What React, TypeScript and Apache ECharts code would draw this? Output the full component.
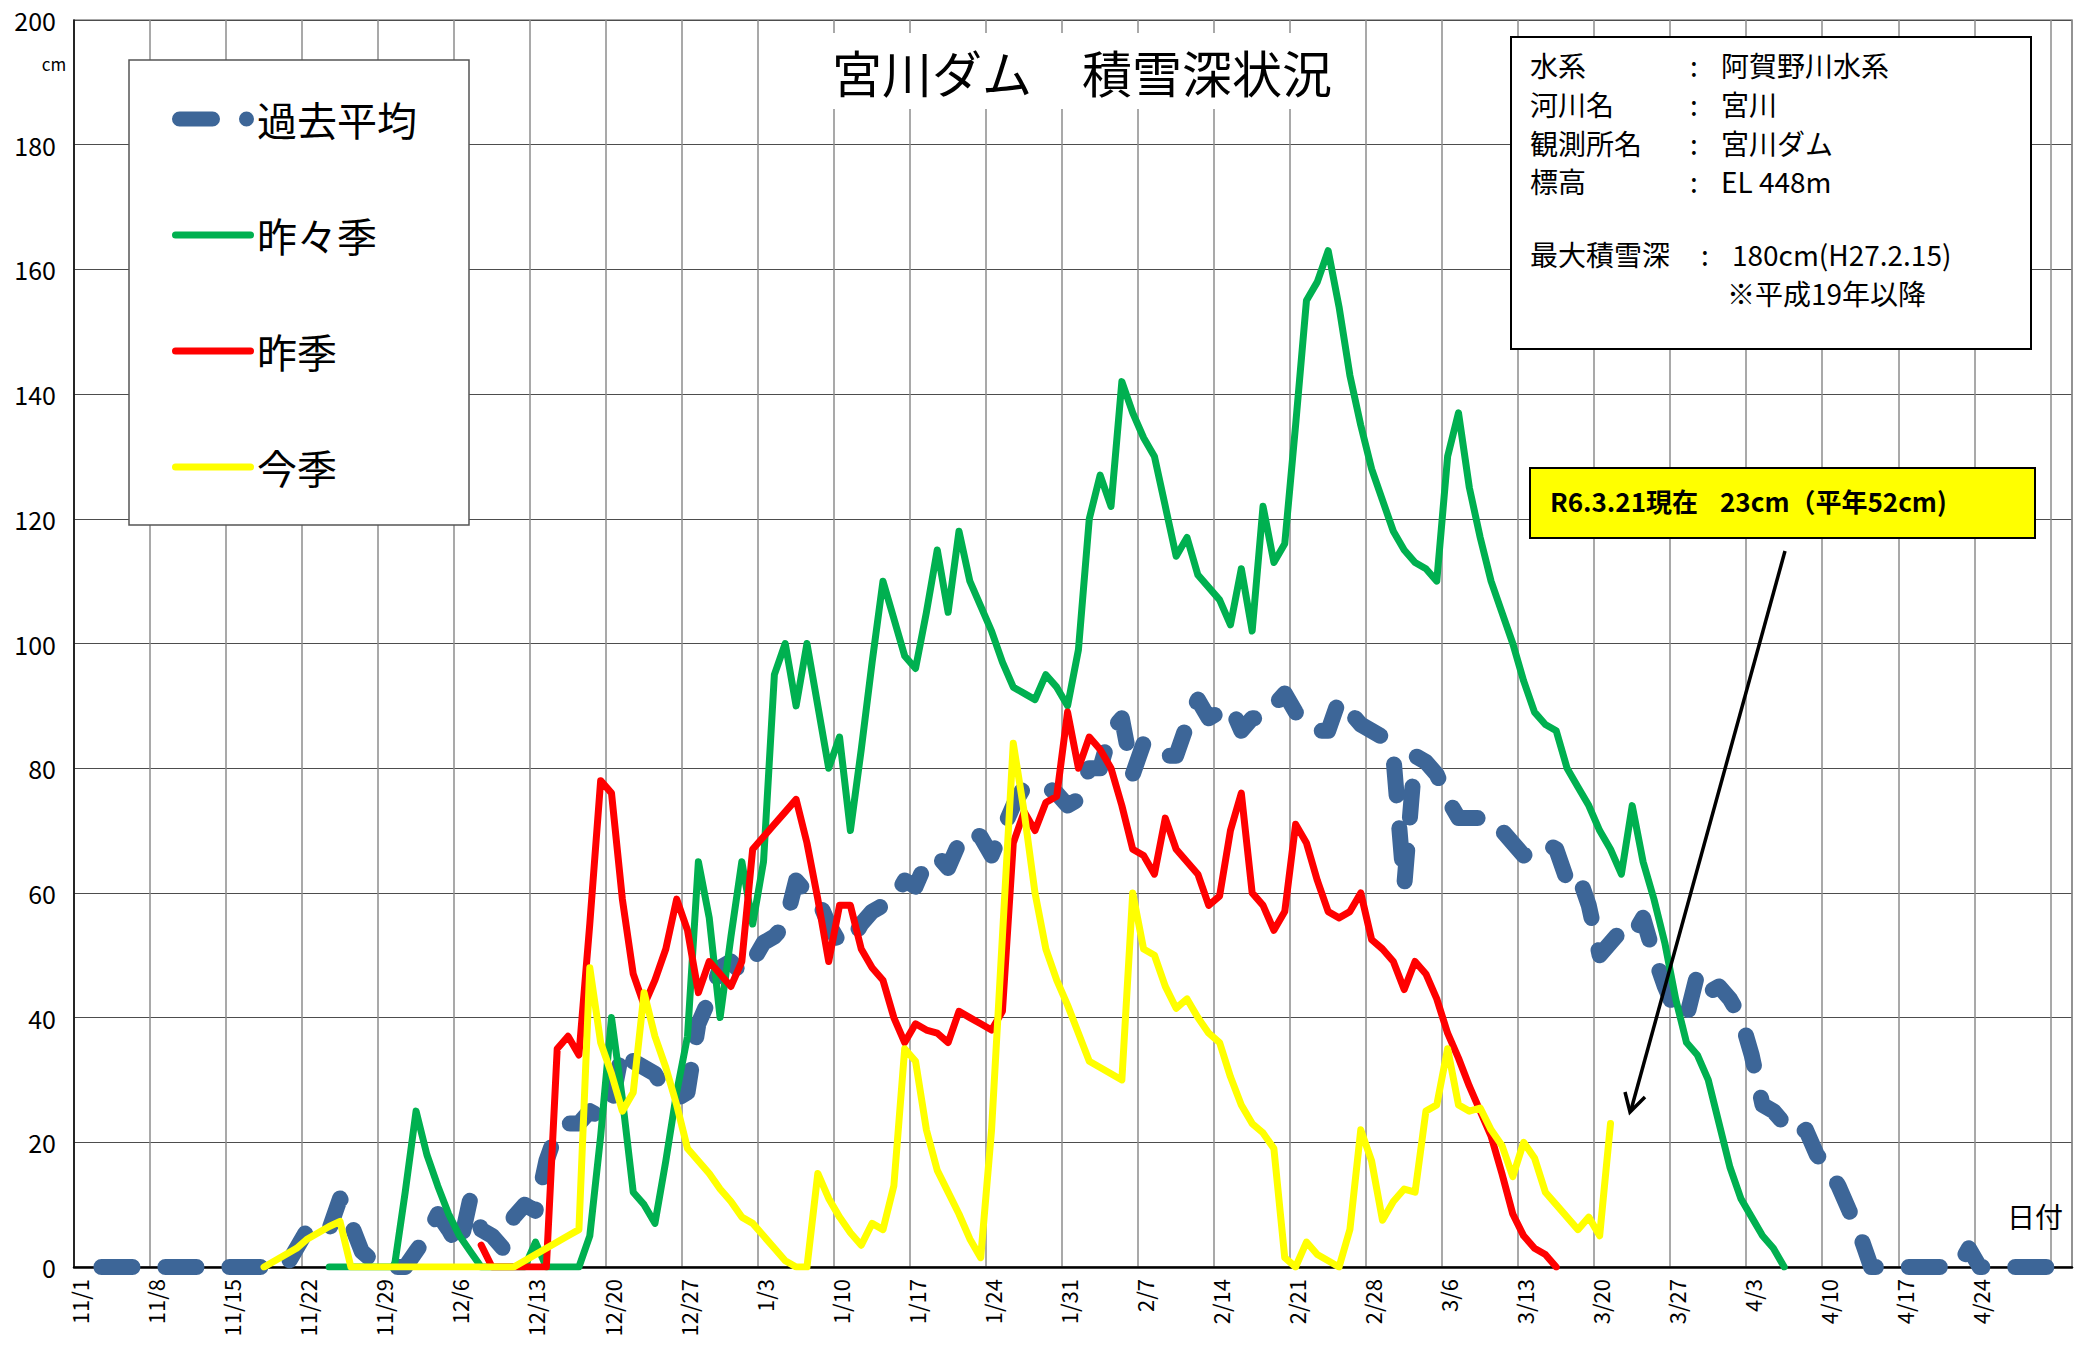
import React, { useEffect, useRef } from "react";
import * as echarts from "echarts";

const FONT = '"Noto Sans CJK JP", "Noto Sans", sans-serif';

// Daily categories 11/1 .. 5/2 (2023-11-01 start, leap-year February)
const START_DATE = Date.UTC(2023, 10, 1);
const DAY_COUNT = 184;
const categories: string[] = [];
for (let i = 0; i < DAY_COUNT; i++) {
  const d = new Date(START_DATE + i * 86400000);
  categories.push(`${d.getUTCMonth() + 1}/${d.getUTCDate()}`);
}

const seriesNames = ["過去平均", "昨々季", "昨季", "今季"];
const seriesColors = ["#3D6698", "#00B050", "#FF0000", "#FFFF00"];

const N = null;

// 過去平均 (cm)
const avgDepth: (number | null)[] = [
  // Nov
  0, 0, 0, 0, 0, 0, 0, 0, 0, 0, 0, 0, 0, 0, 0, 0, 0, 0, 0, 0, 3, 6, 5, 6, 11, 7, 2.5, 1, 0, 0,
  // Dec
  0, 2.5, 5, 8.5, 6, 3, 11, 6, 5, 3, 8, 10, 9, 17, 22, 23, 23, 25, 24, 26, 35, 33, 32, 31, 28, 27, 28, 39, 43, 48, 49,
  // Jan
  47, 49, 52, 53, 55, 62, 60, 59, 55, 52, 52, 55, 57, 58, 59, 62, 61, 65, 66, 64, 68, 70, 69, 66, 70, 74, 77, 77, 77, 76, 74,
  // Feb
  75, 80, 80, 86, 88, 79, 84, 84, 82, 82, 87, 91, 88, 89, 90, 86, 88, 88, 90, 92, 89, 87, 86, 86, 91, 89, 87, 86, 85,
  // Mar
  82, 61, 82, 81, 79, 75, 72, 72, 72, 72, 70, 68, 66, 67, 68, 67, 62, 63, 58, 50, 52, 54, 53, 56, 50, 45, 41, 40, 47, 44, 45,
  // Apr
  43, 40, 34, 26, 25, 23, 21, 22, 18, 16, 13, 9, 5, 0, 0, 0, 0, 0, 0, 0, 0, 0, 3, 0, 0, 0, 0, 0, 0, 0,
  // May
  0, 0,
];

// 昨々季 (cm)
const twoSeasonsAgo: (number | null)[] = [
  // Nov
  N, N, N, N, N, N, N, N, N, N, N, N, N, N, N, N, N, N, N, N, N, N, N, 0, 0, 0, 0, 0, 0, 0,
  // Dec
  12, 25, 18, 13, 8.5, 5, 2.5, 0, 0, 0, 0, 0, 4, 0, 0, 0, 0, 5, 21, 40, 27, 12, 10, 7, 17, 28, 37, 65, 56, 40, 53,
  // Jan
  65, 55, 65, 95, 100, 90, 100, 90, 80, 85, 70, 83, 97, 110, 104, 98, 96, 105, 115, 105, 118, 110, 106, 102, 97, 93, 92, 91, 95, 93, 90,
  // Feb
  99, 120, 127, 122, 142, 137, 133, 130, 122, 114, 117, 111, 109, 107, 103, 112, 102, 122, 113, 116, 135, 155, 158, 163, 154, 143, 135, 128, 123,
  // Mar
  118, 115, 113, 112, 110, 130, 137, 125, 117, 110, 105, 100, 94, 89, 87, 86, 80, 77, 74, 70, 67, 63, 74, 65, 59, 52, 43, 36, 34, 30, 23,
  // Apr
  16, 11, 8, 5, 3, 0, N, N, N, N, N, N, N, N, N, N, N, N, N, N, N, N, N, N, N, N, N, N, N, N,
  // May
  N, N,
];

// 昨季 (cm)
const lastSeason: (number | null)[] = [
  // Nov
  N, N, N, N, N, N, N, N, N, N, N, N, N, N, N, N, N, N, N, N, N, N, N, N, N, N, N, N, N, N,
  // Dec
  N, N, N, N, N, N, N, 3.5, 0, 0, 0, 0, 0, 0, 35, 37, 34, 55, 78, 76, 59, 47, 42, 46, 51, 59, 54, 44, 49, 47, 45,
  // Jan
  49, 67, 69, 71, 73, 75, 68, 59, 49, 58, 58, 51, 48, 46, 40, 36, 39, 38, 37.5, 36, 41, 40, 39, 38, 41, 68, 73, 70, 74.5, 75.5, 89,
  // Feb
  80, 85, 83, 80, 74, 67, 66, 63, 72, 67, 65, 63, 58, 59.5, 70, 76, 60, 58, 54, 57, 71, 68, 62, 57, 56, 57, 60, 52.5, 51,
  // Mar
  49, 44.5, 49, 47, 43, 37.5, 33.5, 29, 25, 21, 15, 8.5, 5, 3, 2, 0, N, N, N, N, N, N, N, N, N, N, N, N, N, N, N,
  // Apr
  N, N, N, N, N, N, N, N, N, N, N, N, N, N, N, N, N, N, N, N, N, N, N, N, N, N, N, N, N, N,
  // May
  N, N,
];

// 今季 (cm)
const thisSeason: (number | null)[] = [
  // Nov
  N, N, N, N, N, N, N, N, N, N, N, N, N, N, N, N, N, 0, 1, 2, 3, 4.5, 5.5, 6.5, 7.3, 0, 0, 0, 0, 0,
  // Dec
  0, 0, 0, 0, 0, 0, 0, 0, 0, 0, 0, 1, 2, 3, 4, 5, 6, 48, 36, 31, 25, 28, 44, 37, 32, 26, 19, 17, 15, 12.5, 10.5,
  // Jan
  8, 7, 5, 3, 1, 0, 0, 15, 11, 8, 5.5, 3.5, 7, 6, 13, 35, 33, 22, 15.5, 12, 8.5, 4.5, 1.5, 22, 53, 84, 73, 60, 51, 46, 42,
  // Feb
  37.5, 33, 32, 31, 30, 60, 51, 50, 45, 41.5, 43, 40, 37.5, 36, 30.5, 26, 23, 21.5, 19, 1.5, 0, 4, 2, 1, 0, 6, 22, 17, 7.5,
  // Mar
  10.5, 12.5, 12, 25, 26, 35, 26, 25, 25.5, 22, 19.5, 14.5, 20, 17.5, 12, 10, 8, 6, 8, 5, 23, N, N, N, N, N, N, N, N, N, N,
  // Apr
  N, N, N, N, N, N, N, N, N, N, N, N, N, N, N, N, N, N, N, N, N, N, N, N, N, N, N, N, N, N,
  // May
  N, N,
];

const yTicks = { min: 0, max: 200, interval: 20 };

const infoRows = [
  { label: "水系", value: "阿賀野川水系" },
  { label: "河川名", value: "宮川" },
  { label: "観測所名", value: "宮川ダム" },
  { label: "標高", value: "EL 448m" },
];
const maxRecord = { label: "最大積雪深", value: "180cm(H27.2.15)", note: "※平成19年以降" };
const currentNoteA = "R6.3.21現在";
const currentNoteB = "23cm（平年52cm)";

const avgIcon =
  "path://M7.5,0H40.5A7.5,7.5,0,0,1,40.5,15H7.5A7.5,7.5,0,0,1,7.5,0ZM74.5,0A7.5,7.5,0,1,1,74.5,15A7.5,7.5,0,1,1,74.5,0Z";
const solidIcon = "path://M3.5,0H78.5A3.5,3.5,0,0,1,78.5,7H3.5A3.5,3.5,0,0,1,3.5,0Z";

function txt(text: string, x: number, y: number, size: number, extra: any = {}) {
  return {
    type: "text",
    z: 100,
    style: {
      text,
      x,
      y,
      fill: "#000",
      fontSize: size,
      fontFamily: FONT,
      align: "left",
      verticalAlign: "middle",
      ...extra,
    },
  };
}

function buildOption() {
  const dataSets = [avgDepth, twoSeasonsAgo, lastSeason, thisSeason];
  const series = dataSets.map((data, i) => {
    const isAvg = i === 0;
    return {
      name: seriesNames[i],
      type: "line",
      data,
      color: seriesColors[i],
      showSymbol: false,
      symbol: "none",
      silent: true,
      connectNulls: false,
      z: 2 + i,
      lineStyle: isAvg
        ? { color: seriesColors[i], width: 16, type: [31, 33], dashOffset: 42, cap: "round", join: "round" }
        : { color: seriesColors[i], width: 7, cap: "round", join: "round" },
    };
  });

  const infoGraphics: any[] = [
    {
      type: "rect",
      z: 99,
      shape: { x: 1511, y: 37, width: 520, height: 312 },
      style: { fill: "#fff", stroke: "#000", lineWidth: 2 },
    },
  ];
  const rowY = [65, 104, 143, 181];
  infoRows.forEach((r, i) => {
    infoGraphics.push(txt(r.label, 1530, rowY[i], 28));
    infoGraphics.push(txt(":", 1690, rowY[i], 28));
    infoGraphics.push(txt(r.value, 1721, rowY[i], 28));
  });
  infoGraphics.push(txt(maxRecord.label, 1530, 254, 28));
  infoGraphics.push(txt(":", 1701, 254, 28));
  infoGraphics.push(txt(maxRecord.value, 1732, 254, 28));
  infoGraphics.push(txt(maxRecord.note, 1727, 293, 28));

  const annotation: any[] = [
    {
      type: "rect",
      z: 99,
      shape: { x: 1530, y: 468, width: 505, height: 70 },
      style: { fill: "#FFFF00", stroke: "#000", lineWidth: 2 },
    },
    txt(currentNoteA, 1550, 500, 26, { fontWeight: "bold" }),
    txt(currentNoteB, 1720, 500, 26, { fontWeight: "bold" }),
    {
      type: "line",
      z: 100,
      shape: { x1: 1785, y1: 551, x2: 1631, y2: 1110 },
      style: { stroke: "#000", lineWidth: 3.5 },
    },
    {
      type: "polyline",
      z: 100,
      shape: { points: [[1645, 1097], [1630, 1112], [1625, 1092]] },
      style: { stroke: "#000", lineWidth: 3.5, fill: null },
    },
  ];

  return {
    animation: false,
    backgroundColor: "#fff",
    title: {
      text: "宮川ダム　積雪深状況",
      left: 820,
      top: 33,
      padding: [12, 12, 12, 12],
      backgroundColor: "#fff",
      z: 50,
      textStyle: { fontSize: 50, fontWeight: "normal", color: "#000", fontFamily: FONT, lineHeight: 52 },
    },
    legend: {
      orient: "vertical",
      left: 129,
      top: 60,
      padding: [39, 52, 38, 43],
      itemGap: 76,
      itemWidth: 82,
      itemHeight: 16,
      selectedMode: false,
      backgroundColor: "#fff",
      borderColor: "#555",
      borderWidth: 1.5,
      itemStyle: { borderWidth: 0 },
      textStyle: { fontSize: 40, lineHeight: 40, color: "#000", fontFamily: FONT, padding: [0, 0, 0, -2] },
      data: seriesNames.map((name, i) => ({ name, icon: i === 0 ? avgIcon : solidIcon })),
    },
    grid: {
      left: 74,
      right: 17,
      top: 20,
      bottom: 83,
      show: true,
      borderColor: "#8c8c8c",
      borderWidth: 1.5,
      backgroundColor: "transparent",
    },
    xAxis: {
      type: "category",
      data: categories,
      boundaryGap: true,
      axisLine: { lineStyle: { color: "#000", width: 2.5 } },
      axisTick: { show: false },
      axisLabel: {
        interval: (i: number) => i % 7 === 0 && i <= 175,
        rotate: 90,
        fontSize: 22,
        color: "#000",
        fontFamily: FONT,
        margin: 12,
      },
      splitLine: {
        show: true,
        interval: (i: number) => i % 7 === 0,
        lineStyle: { color: "#8c8c8c", width: 1.5 },
      },
    },
    yAxis: {
      type: "value",
      min: yTicks.min,
      max: yTicks.max,
      interval: yTicks.interval,
      axisLine: { show: true, lineStyle: { color: "#000", width: 1.5 } },
      axisTick: { show: false },
      axisLabel: { fontSize: 25, color: "#000", margin: 18, fontFamily: FONT },
      splitLine: { show: true, lineStyle: { color: "#4d4d4d", width: 1 } },
    },
    series,
    graphic: [
      txt("cm", 54, 63, 17, { align: "center" }),
      txt("日付", 2035, 1216, 28, { align: "center" }),
      ...infoGraphics,
      ...annotation,
    ],
  };
}

export default function App() {
  const ref = useRef<HTMLDivElement>(null);
  useEffect(() => {
    document.body.style.margin = "0";
    if (!ref.current) return;
    const chart = echarts.init(ref.current, null, { renderer: "svg", width: 2089, height: 1350 });
    chart.setOption(buildOption() as any);
    return () => chart.dispose();
  }, []);
  return (
    <div
      ref={ref}
      style={{ width: 2089, height: 1350, position: "absolute", left: 0, top: 0, background: "#fff" }}
    />
  );
}
